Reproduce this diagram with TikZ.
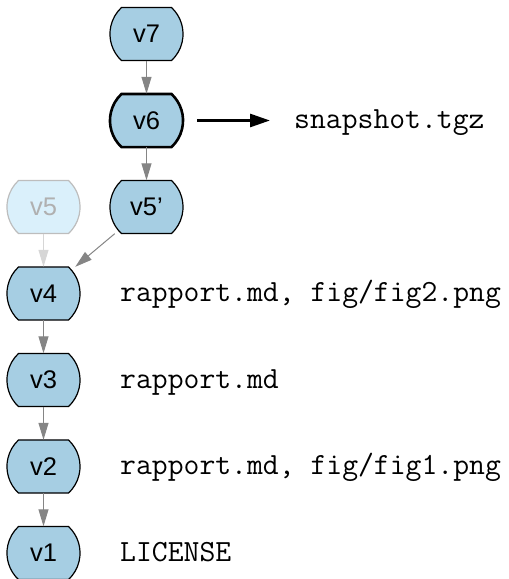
\documentclass[tikz,border=0pt]{standalone}
\usepackage{fontspec}
\setmainfont{Liberation Sans}
\usetikzlibrary{arrows.meta,backgrounds}
\definecolor{vfill}{HTML}{A6CEE3}
\definecolor{vfaintfill}{HTML}{DAF0FB}
\definecolor{vfaintline}{HTML}{BDBDBD}
\definecolor{vfainttext}{HTML}{B0B0B0}
\definecolor{edgegrey}{HTML}{858585}
\definecolor{edgefaint}{HTML}{D6D6D6}
\tikzset{
  x=1pt, y=1pt,
  ver/.style={shape=rectangle, minimum width=73pt, minimum height=53pt,
    inner sep=0pt, font=\fontsize{25.5}{30}\selectfont},
  verfaint/.style={ver, text=vfainttext},
  vnormal/.style={fill=vfill, draw=black, line width=1.2pt},
  vbold/.style={fill=vfill, draw=black, line width=2.6pt},
  vfaded/.style={fill=vfaintfill, draw=vfaintline, line width=1.2pt},
  lbl/.style={inner sep=0pt, anchor=base west, font=\ttfamily\fontsize{30.8}{35}\selectfont},
  hist/.style={draw=edgegrey, line width=1pt, -{Triangle[length=17pt,width=10pt]}},
  histfaint/.style={draw=edgefaint, line width=1pt, -{Triangle[length=17pt,width=10pt]}},
  export/.style={draw=black, line width=2.8pt, -{Triangle[length=20pt,width=13pt]}}
}
\begin{document}
\begin{tikzpicture}
\useasboundingbox (0,0) rectangle (509,579);

% commit nodes
\node[ver] (v7) at (146.5,545) {v7};
\node[ver] (v6) at (146.5,458.5) {v6};
\node[ver] (v5p) at (146.5,372) {v5'};
\node[verfaint] (v5) at (43.5,372) {v5};
\node[ver] (v4) at (43.5,285.5) {v4};
\node[ver] (v3) at (43.5,199) {v3};
\node[ver] (v2) at (43.5,112.5) {v2};
\node[ver] (v1) at (43.5,26) {v1};

% outlines: flat top and bottom, arched sides
\begin{scope}[on background layer]
  \foreach \n/\s in {v7/vnormal, v6/vbold, v5p/vnormal, v5/vfaded,
                     v4/vnormal, v3/vnormal, v2/vnormal, v1/vnormal}
    \path[\s] (\n.center) ++(-25,26.5) -- ++(50,0)
      arc[start angle=47, end angle=-47, radius=36.3] -- ++(-50,0)
      arc[start angle=227, end angle=133, radius=36.3] -- cycle;
\end{scope}

% file labels
\node[lbl] (snap) at (294,450) {snapshot.tgz};
\node[lbl] (l4) at (120,277) {rapport.md, fig/fig2.png};
\node[lbl] (l3) at (120,190.5) {rapport.md};
\node[lbl] (l2) at (120,104) {rapport.md, fig/fig1.png};
\node[lbl] (l1) at (120,17.5) {LICENSE};

% history edges
\draw[hist] (v7) -- (v6);
\draw[hist] (v6) -- (v5p);
\draw[hist] (v5p) -- (v4);
\draw[histfaint] (v5) -- (v4);
\draw[hist] (v4) -- (v3);
\draw[hist] (v3) -- (v2);
\draw[hist] (v2) -- (v1);

% export arrow
\draw[export, shorten <=14pt, shorten >=24pt] (v6.east) -- (v6.east -| snap.west);
\end{tikzpicture}
\end{document}
